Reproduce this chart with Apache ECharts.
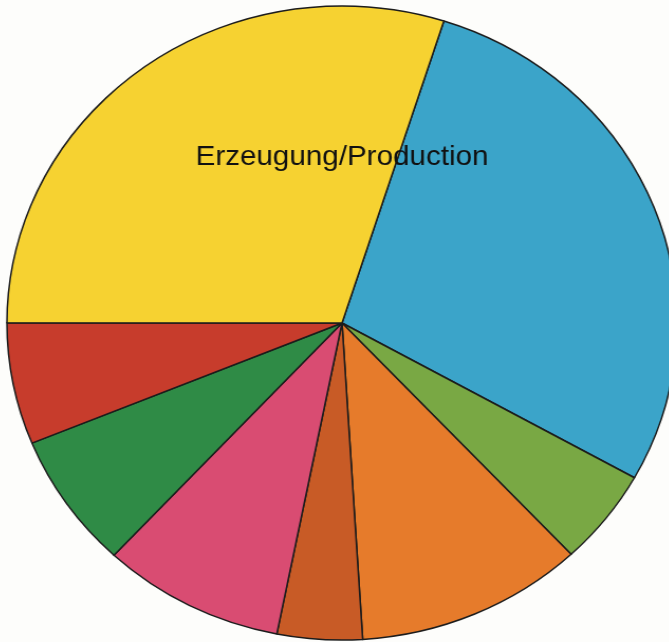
<!DOCTYPE html>
<html>
<head>
<meta charset="utf-8">
<script src="https://cdn.jsdelivr.net/npm/echarts@6/dist/echarts.min.js"></script>
<style>
  html, body { margin: 0; padding: 0; background: #fdfdfb; }
  /* the scanned pie is a little wider than tall, so stretch the chart sideways */
  #chart { width: 669px; height: 642px; transform: scaleX(1.057); transform-origin: 342px 323px; }
</style>
</head>
<body>
<div id="chart"></div>
<script>
var sliceNames = ['s1', 's2', 's3', 's4', 's5', 's6', 's7', 'Erzeugung/Production'];
var sliceValues = [28.2, 4.9, 11.0, 4.1, 8.8, 6.9, 6.2, 29.9];
var labelText = 'Erzeugung/Production';

var chart = echarts.init(document.getElementById('chart'));

var data = [];
for (var i = 0; i < sliceNames.length; i++) {
    data.push({ name: sliceNames[i], value: sliceValues[i] });
}

var option = {
    animation: false,
    backgroundColor: '#fdfdfb',
    color: ['#3ba4c9', '#79a844', '#e67b2b', '#c85b26', '#d94c72', '#2f8b46', '#c73c2c', '#f6d231'],
    graphic: [{
        type: 'text',
        x: 342,
        y: 157,
        style: {
            text: labelText,
            x: 0,
            y: 0,
            font: '28px "Liberation Sans", Arial, sans-serif',
            fill: '#111111',
            align: 'center',
            verticalAlign: 'middle'
        },
        z: 10
    }],
    series: [{
        type: 'pie',
        center: [342, 323],
        radius: [0, 317],
        startAngle: 72.3,
        clockwise: true,
        avoidLabelOverlap: false,
        label: { show: false },
        labelLine: { show: false },
        emphasis: { disabled: true },
        itemStyle: {
            borderColor: '#1c1c1c',
            borderWidth: 1.5
        },
        data: data
    }]
};

chart.setOption(option);
</script>
</body>
</html>
